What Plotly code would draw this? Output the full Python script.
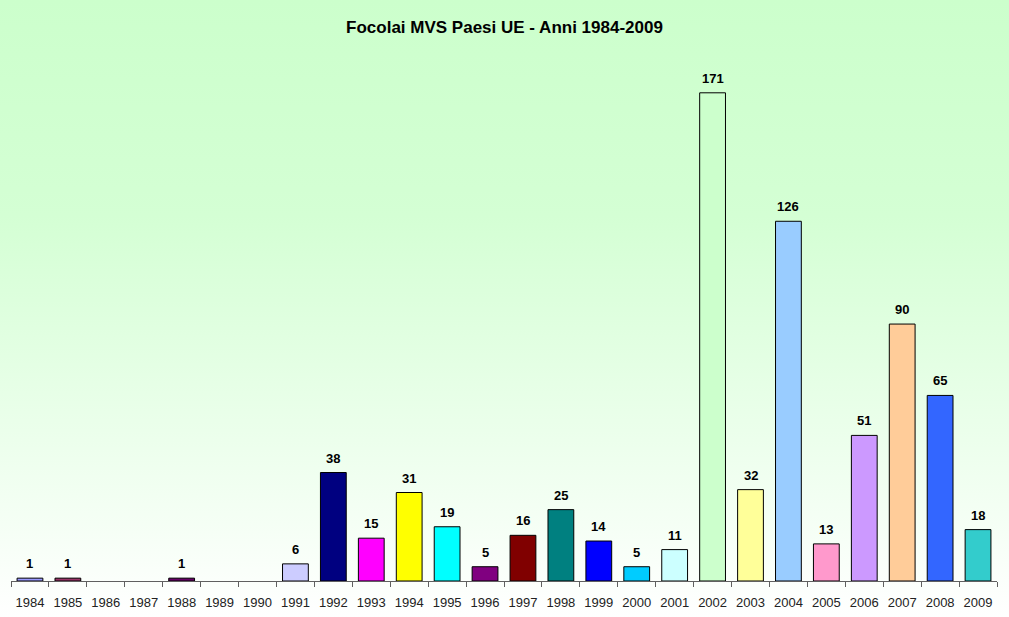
import plotly.graph_objects as go
import urllib.parse

years = [str(y) for y in range(1984, 2010)]
values = [1, 1, None, None, 1, None, None, 6, 38, 15, 31, 19, 5, 16, 25, 14, 5, 11,
          171, 32, 126, 13, 51, 90, 65, 18]
colors = ["#9999FF", "#993366", "#FFFFFF", "#FFFFFF", "#660066", "#FFFFFF", "#FFFFFF",
          "#CCCCFF", "#000080", "#FF00FF", "#FFFF00", "#00FFFF", "#800080", "#800000",
          "#008080", "#0000FF", "#00CCFF", "#CCFFFF", "#CCFFCC", "#FFFF99", "#99CCFF",
          "#FF99CC", "#CC99FF", "#FFCC99", "#3366FF", "#33CCCC"]
title = "Focolai MVS Paesi UE - Anni 1984-2009"

W, H = 1009, 617
ml, mr, mt, mb = 11, 12, 60, 36
pw, ph = W - ml - mr, H - mt - mb

fig = go.Figure()
fig.add_trace(go.Bar(
    x=years, y=values, width=0.68,
    marker=dict(color=colors, line=dict(color="#000000", width=1)),
    hoverinfo="x+y",
))

annotations = []
for i, (yr, v) in enumerate(zip(years, values)):
    if v is None:
        continue
    annotations.append(dict(x=i, y=v, xref="x", yref="y", text=f"<b>{v}</b>",
                            showarrow=False, yanchor="bottom", yshift=5,
                            font=dict(family="Arial, Liberation Sans", size=13, color="#000000")))

svg = ('<svg xmlns="http://www.w3.org/2000/svg" width="100" height="100" preserveAspectRatio="none">'
       '<defs><linearGradient id="g" x1="0" y1="0" x2="0" y2="1">'
       '<stop offset="0" stop-color="#CCFFCC"/><stop offset="0.35" stop-color="#D4FFD4"/>'
       '<stop offset="1" stop-color="#FFFFFF"/></linearGradient></defs>'
       '<rect width="100" height="100" fill="url(#g)"/></svg>')
src = "data:image/svg+xml;charset=utf-8," + urllib.parse.quote(svg)

fig.update_layout(
    width=W, height=H,
    margin=dict(l=ml, r=mr, t=mt, b=mb, pad=0, autoexpand=False),
    paper_bgcolor="rgba(0,0,0,0)",
    plot_bgcolor="rgba(0,0,0,0)",
    showlegend=False,
    bargap=0.32,
    title=dict(text=f"<b>{title}</b>", x=0.5, xanchor="center", y=1 - 27 / H, yanchor="middle",
               font=dict(family="Arial, Liberation Sans", size=17, color="#000000")),
    xaxis=dict(type="category", range=[-0.5, 25.5], showgrid=False, zeroline=False,
               showline=True, linecolor="#606060", linewidth=1, automargin=False,
               ticks="outside", tickson="boundaries", ticklen=5, tickcolor="#606060",
               tickangle=0, ticklabelstandoff=9,
               tickfont=dict(family="Arial, Liberation Sans", size=13, color="#222222")),
    yaxis=dict(range=[0, ph / 2.855], visible=False, showgrid=False, zeroline=False),
    annotations=annotations,
    images=[dict(source=src, xref="paper", yref="paper",
                 x=-ml / pw, y=1 + mt / ph, sizex=W / pw, sizey=H / ph,
                 xanchor="left", yanchor="top", sizing="stretch", layer="below")],
)

fig.write_html("out.html")
